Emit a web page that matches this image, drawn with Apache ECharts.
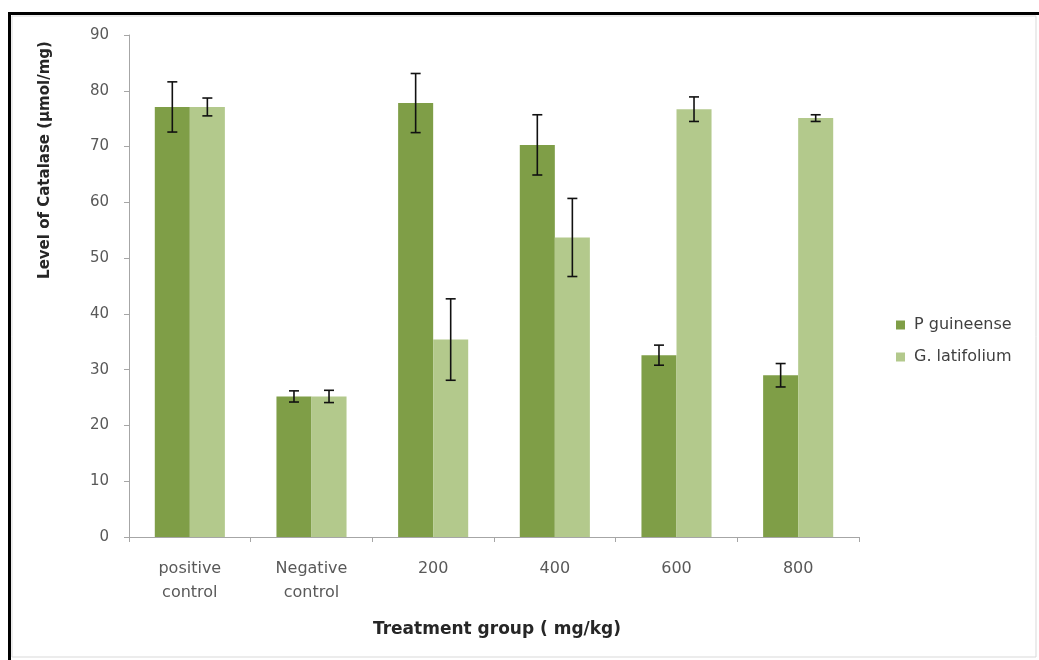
<!DOCTYPE html>
<html>
<head>
<meta charset="utf-8">
<title>Level of Catalase</title>
<script src="https://cdn.jsdelivr.net/npm/echarts@6/dist/echarts.min.js"></script>
<style>
  html, body { margin: 0; padding: 0; background: #ffffff; }
  #chart { width: 1039px; height: 660px; }
</style>
</head>
<body>
<div id="chart"></div>
<script>
// Treatment groups and catalase levels (µmol/mg) with their error margins
var categories = ['positive\ncontrol', 'Negative\ncontrol', '200', '400', '600', '800'];
var seriesNames = ['P guineense', 'G. latifolium'];
var pGuineense = [77.1, 25.2, 77.8, 70.3, 32.6, 29.0];
var pGuineenseErr = [4.5, 1.0, 5.3, 5.4, 1.8, 2.1];
var gLatifolium = [77.1, 25.2, 35.4, 53.7, 76.7, 75.1];
var gLatifoliumErr = [1.6, 1.1, 7.3, 7.0, 2.2, 0.6];
var yTicks = [0, 10, 20, 30, 40, 50, 60, 70, 80, 90];

var colDark = '#7f9e47';
var colLight = '#b3c98c';
var barFrac = 0.288;
var labelFont = '"DejaVu Sans", "Open Sans", sans-serif';
var boldFont = '"DejaVu Sans", "Liberation Sans", sans-serif';

// Error bar renderer: side = -1 for the left bar of a group, +1 for the right bar
function errorBars(values, errs, side) {
  return function (params, api) {
    var i = api.value(0);
    var band = api.size([1, 0])[0];
    var x = api.coord([i, 0])[0] + side * band * barFrac / 2;
    var top = api.coord([i, values[i] + errs[i]])[1];
    var bot = api.coord([i, values[i] - errs[i]])[1];
    var cap = 5;
    var style = { stroke: '#111', lineWidth: 1.6 };
    return {
      type: 'group',
      children: [
        { type: 'line', shape: { x1: x, y1: top, x2: x, y2: bot }, style: style },
        { type: 'line', shape: { x1: x - cap, y1: top, x2: x + cap, y2: top }, style: style },
        { type: 'line', shape: { x1: x - cap, y1: bot, x2: x + cap, y2: bot }, style: style }
      ]
    };
  };
}

function idxData(values) {
  return values.map(function (v, i) { return [i, v]; });
}

var chart = echarts.init(document.getElementById('chart'), null, { renderer: 'canvas' });
chart.setOption({
  animation: false,
  backgroundColor: '#ffffff',
  grid: { left: 129, top: 35, right: 180, bottom: 123 },
  legend: {
    orient: 'vertical',
    left: 891,
    top: 312,
    itemWidth: 9,
    itemHeight: 9,
    itemGap: 16,
    icon: 'rect',
    data: seriesNames,
    textStyle: { fontFamily: labelFont, fontSize: 16, color: '#404040', padding: [0, 0, 0, 4] }
  },
  xAxis: {
    type: 'category',
    data: categories,
    axisLine: { lineStyle: { color: '#a6a6a6', width: 1 } },
    axisTick: { show: true, length: 5, lineStyle: { color: '#a6a6a6' } },
    axisLabel: { fontFamily: labelFont, fontSize: 16, color: '#595959', margin: 20, lineHeight: 24 },
    splitLine: { show: false }
  },
  yAxis: {
    type: 'value',
    min: 0,
    max: 90,
    interval: 10,
    axisLine: { show: true, lineStyle: { color: '#a6a6a6', width: 1 } },
    axisTick: { show: true, length: 5, lineStyle: { color: '#a6a6a6' } },
    axisLabel: {
      fontFamily: labelFont, fontSize: 15, color: '#595959', margin: 20,
      formatter: function (v) { return yTicks.indexOf(v) >= 0 ? String(v) : ''; }
    },
    splitLine: { show: false }
  },
  series: [
    {
      name: seriesNames[0],
      type: 'bar',
      data: pGuineense,
      barWidth: (barFrac * 100) + '%',
      barGap: '0%',
      itemStyle: { color: colDark }
    },
    {
      name: seriesNames[1],
      type: 'bar',
      data: gLatifolium,
      barWidth: (barFrac * 100) + '%',
      barGap: '0%',
      itemStyle: { color: colLight }
    },
    {
      type: 'custom',
      data: idxData(pGuineense),
      renderItem: errorBars(pGuineense, pGuineenseErr, -1),
      z: 10,
      silent: true
    },
    {
      type: 'custom',
      data: idxData(gLatifolium),
      renderItem: errorBars(gLatifolium, gLatifoliumErr, 1),
      z: 10,
      silent: true
    }
  ],
  graphic: [
    // frame: thin grey inner edge plus heavy black top and left rules
    { type: 'rect', shape: { x: 12, y: 16, width: 1024, height: 641 },
      style: { fill: 'none', stroke: '#d9d9d9', lineWidth: 1 }, silent: true },
    { type: 'line', shape: { x1: 8, y1: 13.5, x2: 1039, y2: 13.5 },
      style: { stroke: '#000', lineWidth: 3 }, silent: true },
    { type: 'line', shape: { x1: 9.5, y1: 12, x2: 9.5, y2: 660 },
      style: { stroke: '#000', lineWidth: 3 }, silent: true },
    {
      type: 'text',
      x: 45, y: 160,
      rotation: Math.PI / 2,
      style: {
        text: 'Level of Catalase (µmol/mg)',
        font: 'bold 15px ' + boldFont,
        fill: '#262626',
        textAlign: 'center',
        textVerticalAlign: 'middle'
      }
    },
    {
      type: 'text',
      x: 497, y: 630,
      style: {
        text: 'Treatment group ( mg/kg)',
        font: 'bold 17px ' + boldFont,
        fill: '#262626',
        textAlign: 'center',
        textVerticalAlign: 'middle'
      }
    }
  ]
});
</script>
</body>
</html>
